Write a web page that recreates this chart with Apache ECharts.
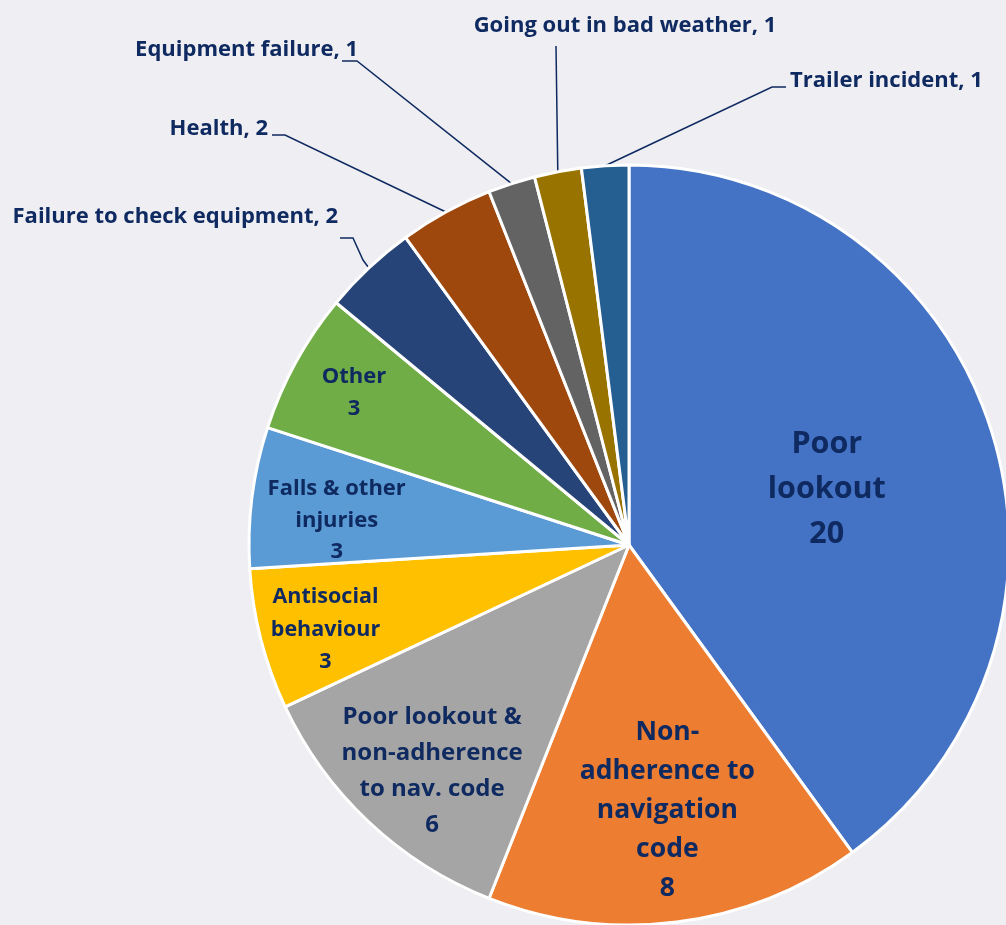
<!DOCTYPE html>
<html><head><meta charset="utf-8">
<script src="https://cdn.jsdelivr.net/npm/echarts@6/dist/echarts.min.js"></script>
<style>html,body{margin:0;padding:0;background:#EEEEF3}#c{width:1006px;height:925px}</style>
</head><body><div id="c"></div>
<script>
// ---- data ----
const categories = ['Poor lookout', 'Non-adherence to navigation code', 'Poor lookout & non-adherence to nav. code', 'Antisocial behaviour', 'Falls & other injuries', 'Other', 'Failure to check equipment', 'Health', 'Equipment failure', 'Going out in bad weather', 'Trailer incident'];
const values = [20, 8, 6, 3, 3, 3, 2, 2, 1, 1, 1];
const wrappedNames = ['Poor\nlookout', 'Non-\nadherence to\nnavigation\ncode', 'Poor lookout &\nnon-adherence\nto nav. code', 'Antisocial\nbehaviour', 'Falls & other\ninjuries', 'Other', 'Failure to check equipment', 'Health', 'Equipment failure', 'Going out in bad weather', 'Trailer incident'];

// ---- styles / layout ----
const colors = ['#4472C4', '#ED7D31', '#A5A5A5', '#FFC000', '#5B9BD5', '#70AD47', '#264478', '#9E480E', '#636363', '#997300', '#255E91'];
const TEXT = '#0F2A60';
const CX = 629, CY = 545, R = 380;
const inside = [true, true, true, true, true, true, false, false, false, false, false];
const fontSizes = [30.5, 26.5, 24, 21.5, 22, 22, 22, 22, 22, 22, 22];
const lineHeights = [45, 39, 36, 32.5, 31.5, 32, 26, 26, 26, 26, 26];
const insideFrac = [0.55, 0.70, 0.78, 0.83, 0.77, 0.82];
const insideShift = [[-1, 9], [5, 2], [6, 10], [2, 6], [-2, 12], [-2, -2]];
// outside labels: text anchor x, y, align, then leader line bend points
const outside = {
  6: {x: 338, y: 217, align: 'right', line: [[363, 260], [353, 238], [340, 238]]},
  7: {x: 268, y: 129, align: 'right', line: [[285, 135], [272, 135]]},
  8: {x: 358, y: 50, align: 'right', line: [[357, 61], [342, 61]]},
  9: {x: 625, y: 26, align: 'center', line: [[556, 46]]},
  10: {x: 790, y: 81, align: 'left', line: [[772, 87], [786, 87]]}
};

const total = values.reduce((a, b) => a + b, 0);
function midAngle(i) {
  let c = 0;
  for (let k = 0; k < i; k++) c += values[k];
  return (c + values[i] / 2) / total * 2 * Math.PI;
}

const data = categories.map((name, i) => ({
  name: name,
  value: values[i],
  itemStyle: {color: colors[i]},
  label: {
    position: inside[i] ? 'inside' : 'outside',
    fontSize: fontSizes[i],
    lineHeight: lineHeights[i],
    formatter: inside[i] ? (wrappedNames[i] + '\n' + values[i]) : (name + ', ' + values[i])
  },
  labelLine: {show: !inside[i]}
}));

const chart = echarts.init(document.getElementById('c'));
chart.setOption({
  backgroundColor: '#EEEEF3',
  animation: false,
  series: [{
    type: 'pie',
    center: [CX, CY],
    radius: R,
    startAngle: 90,
    clockwise: true,
    avoidLabelOverlap: false,
    data: data,
    itemStyle: {borderColor: '#FFFFFF', borderWidth: 3},
    emphasis: {disabled: true},
    label: {
      color: TEXT,
      fontFamily: 'Open Sans',
      fontWeight: 'bold',
      align: 'center'
    },
    labelLine: {show: true, length: 10, length2: 10, lineStyle: {color: TEXT, width: 1.5}},
    labelLayout: function (p) {
      const i = p.dataIndex;
      const a = midAngle(i);
      if (inside[i]) {
        const f = insideFrac[i];
        const s = insideShift[i];
        return {x: CX + f * R * Math.sin(a) + s[0], y: CY - f * R * Math.cos(a) + s[1], align: 'center', verticalAlign: 'middle'};
      }
      const o = outside[i];
      const p0 = [CX + R * Math.sin(a), CY - R * Math.cos(a)];
      return {x: o.x, y: o.y, align: o.align, verticalAlign: 'middle', labelLinePoints: [p0].concat(o.line)};
    }
  }]
});
</script>
</body></html>
